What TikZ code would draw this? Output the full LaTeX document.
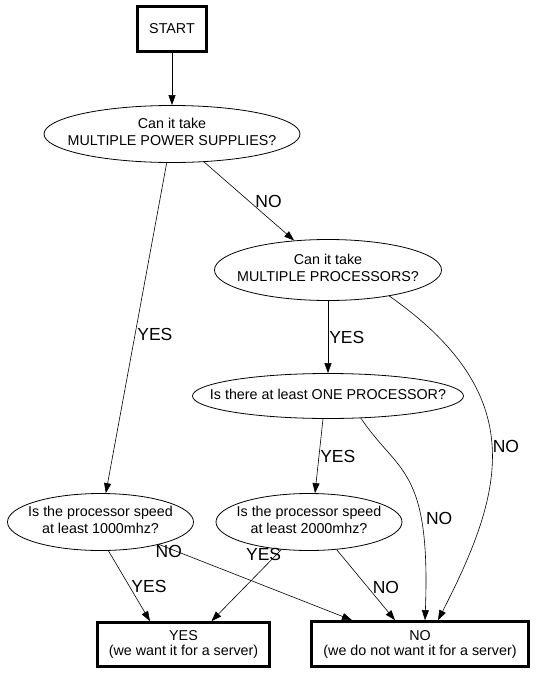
\documentclass[tikz,border=0pt]{standalone}
\usepackage{fontspec}
\setmainfont{Liberation Sans}
\usetikzlibrary{shapes.geometric,arrows.meta}
\newcommand{\asktext}[1]{\makebox[0pt]{\begin{tabular}{@{}c@{}}#1\end{tabular}}}

\begin{document}
\begin{tikzpicture}[x=1pt, y=-1pt,
  endbox/.style={rectangle, draw, line width=3.2pt, align=center, font=\fontsize{14.3}{15}\selectfont},
  question/.style={ellipse, draw, line width=0.8pt, inner sep=0pt, minimum height=57pt, font=\fontsize{14.3}{17}\selectfont},
  flow/.style={-{Triangle[length=10pt,width=7pt]}, line width=0.6pt},
  lbl/.style={font=\fontsize{17.5}{20}\selectfont, inner sep=2pt}]
\useasboundingbox (0,0) rectangle (552,675);
\fill[white] (0,0) rectangle (552,675);

% start and end boxes
\node[endbox, minimum width=69.5pt, minimum height=44.5pt] (start) at (172,29) {START};
\node[endbox, minimum width=171.5pt, minimum height=43.5pt] (yes) at (183.5,644.5) {YES\\(we want it for a server)};
\node[endbox, minimum width=216.5pt, minimum height=44.5pt] (no) at (420,644) {NO\\(we do not want it for a server)};

% questions
\node[question, minimum width=256pt] (power) at (172,134) {\asktext{Can it take\\MULTIPLE POWER SUPPLIES?}};
\node[question, minimum width=227pt, minimum height=61pt] (multi) at (328,270) {\asktext{Can it take\\MULTIPLE PROCESSORS?}};
\node[question, minimum width=271pt, minimum height=45pt] (one) at (328,396) {\asktext{Is there at least ONE PROCESSOR?}};
\node[question, minimum width=186pt] (speedA) at (100.5,522) {\asktext{Is the processor speed\\at least 1000mhz?}};
\node[question, minimum width=186pt] (speedB) at (309,522) {\asktext{Is the processor speed\\at least 2000mhz?}};

% connectors
\draw[flow] (start) -- (power);
\draw[flow] (power) -- node[lbl, pos=0.52, anchor=west] {YES} (speedA);
\draw[flow] (power) -- node[lbl, pos=0.5, anchor=west, xshift=4pt] {NO} (multi);
\draw[flow] (multi) -- node[lbl, anchor=west, inner sep=1pt] {YES} (one);
\draw[flow] (multi.-23) .. controls (530,395) and (505,490) .. node[lbl, pos=0.5, anchor=west, inner sep=1pt] {NO} ([xshift=18pt]no.north);
\draw[flow] ([xshift=-5pt]one.south) -- node[lbl, anchor=west, inner sep=1pt] {YES} ([xshift=6pt]speedB.north);
\draw[flow] (one.-34.5) .. controls (397.6,473.3) and (431,466) .. node[lbl, pos=0.7, anchor=west, xshift=3pt] {NO} ([xshift=5pt]no.north);
\draw[flow] ([xshift=8pt]speedA.south) -- node[lbl, pos=0.51, anchor=west, inner sep=1.5pt] {YES} ([xshift=-33.5pt]yes.north);
\draw[flow] (speedA.-21.6) -- node[lbl, pos=0.05, yshift=-3.5pt] {NO} ([xshift=-68pt]no.north);
\draw[flow] (speedB.-135) -- node[lbl, pos=0, anchor=east, inner sep=0pt, yshift=-5pt] {YES} ([xshift=28pt]yes.north);
\draw[flow] (speedB.-45) -- node[lbl, pos=0.53, anchor=west, xshift=3pt] {NO} ([xshift=-25pt]no.north);
\end{tikzpicture}
\end{document}
